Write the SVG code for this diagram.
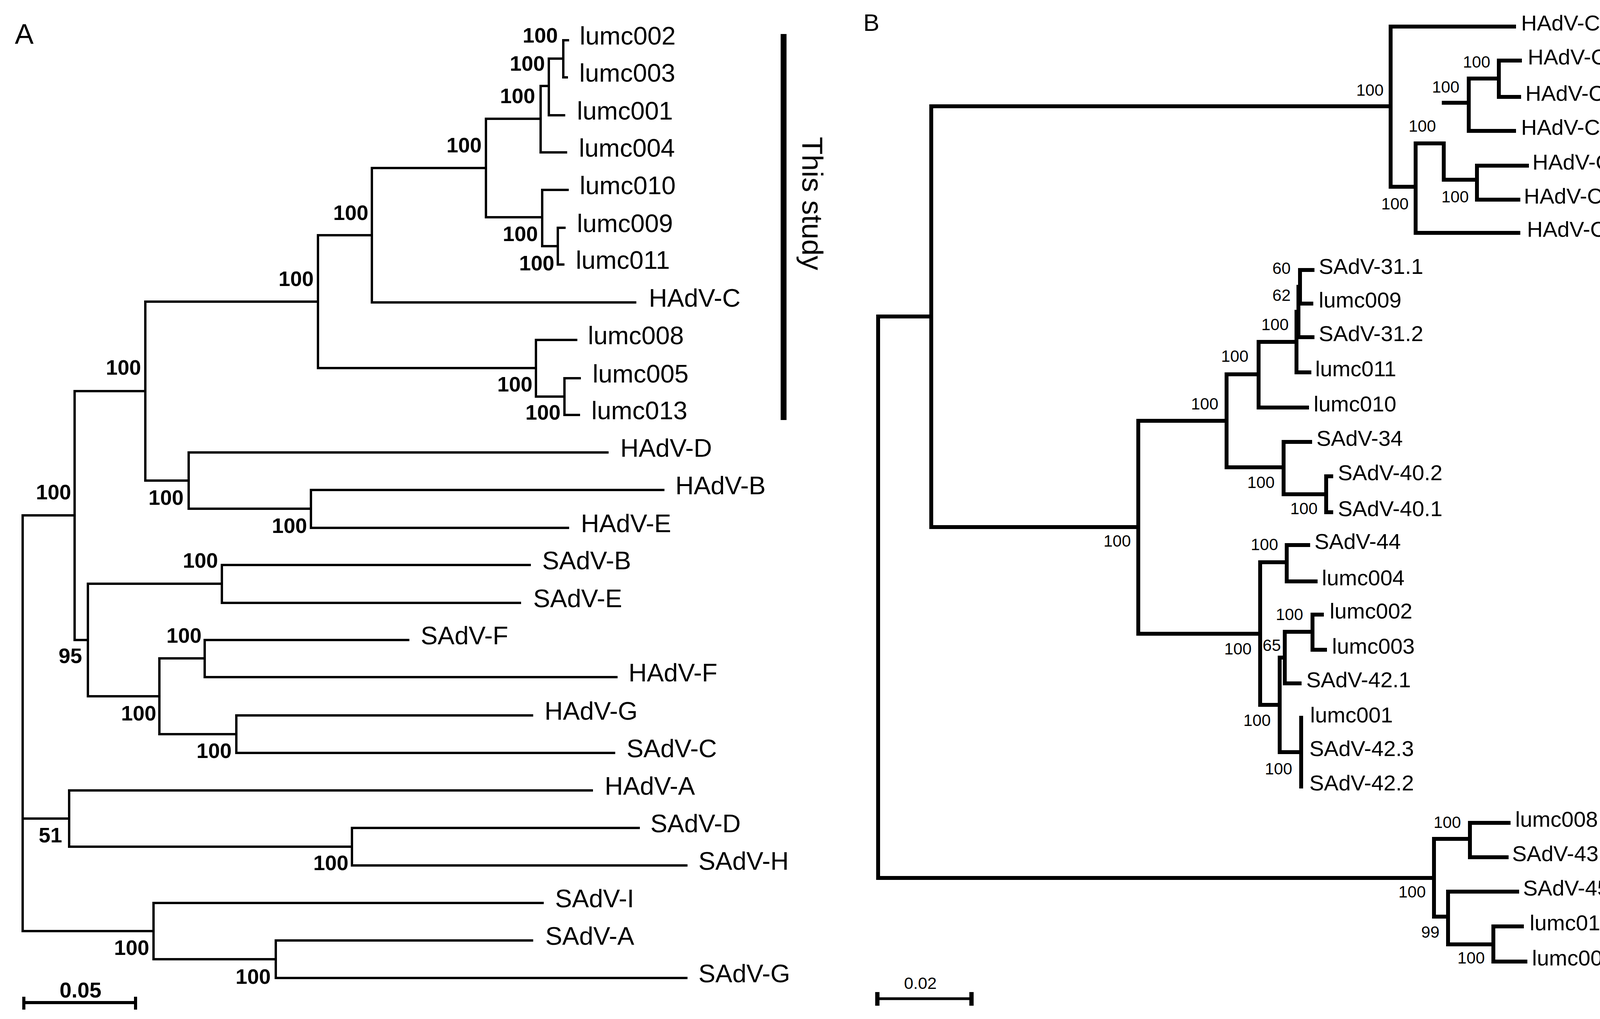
<svg xmlns="http://www.w3.org/2000/svg" width="4328" height="2608" viewBox="0 0 4328 2608">
<style>
text{font-family:"Liberation Sans",Arial,sans-serif;fill:#000}
.ta{font-size:65px}
.ba{font-size:54px;font-weight:bold;text-anchor:end}
.tb{font-size:56px}
.bb{font-size:42px;text-anchor:end}
.pl{font-size:56px}
.ea{stroke:#000;stroke-width:6;fill:none;stroke-linecap:square;stroke-linejoin:miter}
.eb{stroke:#000;stroke-width:10;fill:none;stroke-linecap:square;stroke-linejoin:miter}
.bar{stroke:#000;fill:none}
</style>
<rect width="4328" height="2608" fill="#fff"/>

<!-- Panel labels -->
<text x="38" y="112" style="font-size:72px">A</text>
<text x="2210" y="79" style="font-size:62px">B</text>

<g id="connectors">
 <g id="connectors-A" class="ea">
  <path d="M1454 103H1442V198H1451M1405 150H1442"/>
  <path d="M1405 150V295H1444M1384 220H1405"/>
  <path d="M1384 220V390H1449M1244 304H1384"/>
  <path d="M1445 583H1428V677H1442M1388 630H1428"/>
  <path d="M1453 486H1388V630M1244 556H1388"/>
  <path d="M1244 304V556M952 430H1244"/>
  <path d="M952 430V774H1626M814 602H952"/>
  <path d="M1484 968H1445V1062H1482M1372 1015H1445"/>
  <path d="M1475 870H1372V1015M814 942H1372"/>
  <path d="M814 602V942M372 772H814"/>
  <path d="M1698 1254H796V1351H1454M483 1302H796"/>
  <path d="M1555 1158H483V1302M372 1230H483"/>
  <path d="M372 772V1230M191 1001H372"/>
  <path d="M1356 1446H568V1543H1331M225 1494H568"/>
  <path d="M1045 1638H524V1733H1578M408 1685H524"/>
  <path d="M1362 1831H605V1927H1572M408 1879H605"/>
  <path d="M408 1685V1879M225 1782H408"/>
  <path d="M225 1494V1782M191 1638H225"/>
  <path d="M191 1001V1638M58 1319H191"/>
  <path d="M1635 2119H901V2215H1757M177 2167H901"/>
  <path d="M1515 2023H177V2167M58 2095H177"/>
  <path d="M1362 2407H706V2503H1757M393 2455H706"/>
  <path d="M1389 2311H393V2455M58 2383H393"/>
  <path d="M58 1319V2383"/>
 </g>
 <g id="connectors-B" class="eb">
  <path d="M3876 68H3560V478M2384 272H3560"/>
  <path d="M3560 478H3624M3624 367V596H3887"/>
  <path d="M3624 367H3696V460"/>
  <path d="M3696 263H3760M3760 201V335H3876"/>
  <path d="M3760 201H3837M3891 155H3837V248H3889"/>
  <path d="M3696 460H3781M3909 424H3781V511H3887"/>
  <path d="M3360 691H3328V777H3357"/>
  <path d="M3324 734H3328M3324 734V863H3360"/>
  <path d="M3319 798H3324M3319 798V953H3352"/>
  <path d="M3222 875H3319M3222 875V1043H3346"/>
  <path d="M3140 958H3222M3140 958V1196"/>
  <path d="M3140 1196H3286M3354 1131H3286V1265"/>
  <path d="M3286 1265H3395M3408 1219H3395V1311H3408"/>
  <path d="M2914 1077H3140M2914 1077V1622"/>
  <path d="M2914 1622H3226M3226 1439V1804"/>
  <path d="M3226 1439H3294M3349 1395H3294V1488H3368"/>
  <path d="M3226 1804H3276M3276 1683V1925"/>
  <path d="M3276 1683H3289M3289 1617V1749H3327"/>
  <path d="M3289 1617H3360M3384 1573H3360V1663H3392"/>
  <path d="M3276 1925H3331M3331 1837V2013"/>
  <path d="M2384 272V1349H2914"/>
  <path d="M2384 810H2248V2247H3671"/>
  <path d="M3671 2147V2346"/>
  <path d="M3671 2147H3763M3862 2106H3763V2194H3857"/>
  <path d="M3671 2346H3707M3884 2282H3707V2417"/>
  <path d="M3707 2417H3823M3896 2371H3823V2461H3905"/>
 </g>
</g>

<!-- Panel A leaves -->
<g id="A-lumc002"><text class="ta" x="1484" y="114">lumc002</text></g>
<g id="A-lumc003"><text class="ta" x="1483" y="209">lumc003</text></g>
<g id="A-lumc001"><text class="ta" x="1477" y="306">lumc001</text></g>
<g id="A-lumc004"><text class="ta" x="1482" y="401">lumc004</text></g>
<g id="A-lumc010"><text class="ta" x="1484" y="497">lumc010</text></g>
<g id="A-lumc009"><text class="ta" x="1477" y="594">lumc009</text></g>
<g id="A-lumc011"><text class="ta" x="1474" y="688">lumc011</text></g>
<g id="A-HAdV-C"><text class="ta" x="1661" y="785">HAdV-C</text></g>
<g id="A-lumc008"><text class="ta" x="1505" y="881">lumc008</text></g>
<g id="A-lumc005"><text class="ta" x="1517" y="979">lumc005</text></g>
<g id="A-lumc013"><text class="ta" x="1514" y="1073">lumc013</text></g>
<g id="A-HAdV-D"><text class="ta" x="1588" y="1169">HAdV-D</text></g>
<g id="A-HAdV-B"><text class="ta" x="1729" y="1265">HAdV-B</text></g>
<g id="A-HAdV-E"><text class="ta" x="1487" y="1362">HAdV-E</text></g>
<g id="A-SAdV-B"><text class="ta" x="1388" y="1457">SAdV-B</text></g>
<g id="A-SAdV-E"><text class="ta" x="1365" y="1554">SAdV-E</text></g>
<g id="A-SAdV-F"><text class="ta" x="1077" y="1649">SAdV-F</text></g>
<g id="A-HAdV-F"><text class="ta" x="1609" y="1744">HAdV-F</text></g>
<g id="A-HAdV-G"><text class="ta" x="1394" y="1842">HAdV-G</text></g>
<g id="A-SAdV-C"><text class="ta" x="1604" y="1938">SAdV-C</text></g>
<g id="A-HAdV-A"><text class="ta" x="1548" y="2034">HAdV-A</text></g>
<g id="A-SAdV-D"><text class="ta" x="1665" y="2130">SAdV-D</text></g>
<g id="A-SAdV-H"><text class="ta" x="1788" y="2226">SAdV-H</text></g>
<g id="A-SAdV-I"><text class="ta" x="1421" y="2322">SAdV-I</text></g>
<g id="A-SAdV-A"><text class="ta" x="1396" y="2418">SAdV-A</text></g>
<g id="A-SAdV-G"><text class="ta" x="1788" y="2514">SAdV-G</text></g>

<!-- Panel A internal node support values -->
<g id="A-nodes">
 <g id="A-n1"><text class="ba" x="1428" y="109">100</text></g>
 <g id="A-n2"><text class="ba" x="1395" y="181">100</text></g>
 <g id="A-n3"><text class="ba" x="1370" y="264">100</text></g>
 <g id="A-n6"><text class="ba" x="1233" y="390">100</text></g>
 <g id="A-n7"><text class="ba" x="943" y="563">100</text></g>
 <g id="A-n5"><text class="ba" x="1377" y="617">100</text></g>
 <g id="A-n4"><text class="ba" x="1419" y="692">100</text></g>
 <g id="A-n10"><text class="ba" x="803" y="732">100</text></g>
 <g id="A-n13"><text class="ba" x="361" y="959">100</text></g>
 <g id="A-n9"><text class="ba" x="1363" y="1002">100</text></g>
 <g id="A-n8"><text class="ba" x="1435" y="1074">100</text></g>
 <g id="A-n19"><text class="ba" x="182" y="1278">100</text></g>
 <g id="A-n12"><text class="ba" x="470" y="1292">100</text></g>
 <g id="A-n11"><text class="ba" x="786" y="1364">100</text></g>
 <g id="A-n14"><text class="ba" x="558" y="1453">100</text></g>
 <g id="A-n15"><text class="ba" x="516" y="1645">100</text></g>
 <g id="A-n18"><text class="ba" x="210" y="1697">95</text></g>
 <g id="A-n17"><text class="ba" x="400" y="1844">100</text></g>
 <g id="A-n16"><text class="ba" x="593" y="1940">100</text></g>
 <g id="A-n21"><text class="ba" x="159" y="2156">51</text></g>
 <g id="A-n20"><text class="ba" x="892" y="2227">100</text></g>
 <g id="A-n23"><text class="ba" x="382" y="2444">100</text></g>
 <g id="A-n22"><text class="ba" x="693" y="2518">100</text></g>
</g>

<!-- This study -->
<g id="A-thisstudy">
 <line class="bar" x1="2006" y1="87" x2="2006" y2="1075" stroke-width="15"/>
 <text transform="translate(2054,350) rotate(90)" style="font-size:75px">This study</text>
</g>

<!-- Scale bar A -->
<g id="A-scale">
 <path class="ea" d="M61 2566H347M61 2551V2584M347 2551V2584" style="stroke-linecap:butt;stroke-width:8"/>
 <text x="206" y="2553" style="font-size:55px;font-weight:bold;text-anchor:middle">0.05</text>
</g>

<!-- Panel B leaves -->
<g id="B-HAdV-C5"><text class="tb" x="3894" y="78">HAdV-C5</text></g>
<g id="B-HAdV-C89"><text class="tb" x="3911" y="165">HAdV-C89</text></g>
<g id="B-HAdV-C2"><text class="tb" x="3905" y="258">HAdV-C2</text></g>
<g id="B-HAdV-C104"><text class="tb" x="3894" y="345">HAdV-C104</text></g>
<g id="B-HAdV-C57"><text class="tb" x="3923" y="434">HAdV-C57</text></g>
<g id="B-HAdV-C6"><text class="tb" x="3901" y="521">HAdV-C6</text></g>
<g id="B-HAdV-C1"><text class="tb" x="3909" y="606">HAdV-C1</text></g>
<g id="B-SAdV-31.1"><text class="tb" x="3376" y="701">SAdV-31.1</text></g>
<g id="B-lumc009"><text class="tb" x="3376" y="787">lumc009</text></g>
<g id="B-SAdV-31.2"><text class="tb" x="3376" y="873">SAdV-31.2</text></g>
<g id="B-lumc011"><text class="tb" x="3367" y="963">lumc011</text></g>
<g id="B-lumc010"><text class="tb" x="3363" y="1053">lumc010</text></g>
<g id="B-SAdV-34"><text class="tb" x="3370" y="1141">SAdV-34</text></g>
<g id="B-SAdV-40.2"><text class="tb" x="3425" y="1229">SAdV-40.2</text></g>
<g id="B-SAdV-40.1"><text class="tb" x="3425" y="1321">SAdV-40.1</text></g>
<g id="B-SAdV-44"><text class="tb" x="3365" y="1405">SAdV-44</text></g>
<g id="B-lumc004"><text class="tb" x="3384" y="1498">lumc004</text></g>
<g id="B-lumc002"><text class="tb" x="3404" y="1583">lumc002</text></g>
<g id="B-lumc003"><text class="tb" x="3410" y="1673">lumc003</text></g>
<g id="B-SAdV-42.1"><text class="tb" x="3344" y="1759">SAdV-42.1</text></g>
<g id="B-lumc001"><text class="tb" x="3354" y="1849">lumc001</text></g>
<g id="B-SAdV-42.3"><text class="tb" x="3352" y="1935">SAdV-42.3</text></g>
<g id="B-SAdV-42.2"><text class="tb" x="3352" y="2023">SAdV-42.2</text></g>
<g id="B-lumc008"><text class="tb" x="3879" y="2116">lumc008</text></g>
<g id="B-SAdV-43"><text class="tb" x="3871" y="2204">SAdV-43</text></g>
<g id="B-SAdV-45"><text class="tb" x="3899" y="2292">SAdV-45</text></g>
<g id="B-lumc013"><text class="tb" x="3916" y="2381">lumc013</text></g>
<g id="B-lumc005"><text class="tb" x="3922" y="2471">lumc005</text></g>

<!-- Panel B support values -->
<g id="B-nodes">
 <g id="B-h5"><text class="bb" x="3815" y="173">100</text></g>
 <g id="B-h4"><text class="bb" x="3736" y="237">100</text></g>
 <g id="B-h1"><text class="bb" x="3542" y="245">100</text></g>
 <g id="B-h3"><text class="bb" x="3676" y="337">100</text></g>
 <g id="B-h6"><text class="bb" x="3760" y="518">100</text></g>
 <g id="B-h2"><text class="bb" x="3606" y="536">100</text></g>
 <g id="B-c60"><text class="bb" x="3304" y="701">60</text></g>
 <g id="B-c62"><text class="bb" x="3304" y="770">62</text></g>
 <g id="B-c100a"><text class="bb" x="3299" y="845">100</text></g>
 <g id="B-c3222"><text class="bb" x="3196" y="926">100</text></g>
 <g id="B-c3140"><text class="bb" x="3119" y="1048">100</text></g>
 <g id="B-c3286"><text class="bb" x="3263" y="1249">100</text></g>
 <g id="B-c3395"><text class="bb" x="3373" y="1316">100</text></g>
 <g id="B-n2914"><text class="bb" x="2895" y="1399">100</text></g>
 <g id="B-b3294"><text class="bb" x="3272" y="1408">100</text></g>
 <g id="B-b3360"><text class="bb" x="3336" y="1587">100</text></g>
 <g id="B-b3289"><text class="bb" x="3279" y="1666">65</text></g>
 <g id="B-b3226"><text class="bb" x="3204" y="1675">100</text></g>
 <g id="B-b3276"><text class="bb" x="3253" y="1858">100</text></g>
 <g id="B-b3331"><text class="bb" x="3308" y="1982">100</text></g>
 <g id="B-g3763"><text class="bb" x="3740" y="2119">100</text></g>
 <g id="B-g3671"><text class="bb" x="3650" y="2297">100</text></g>
 <g id="B-g3707"><text class="bb" x="3685" y="2400">99</text></g>
 <g id="B-g3823"><text class="bb" x="3801" y="2466">100</text></g>
</g>

<!-- Host groups -->
<g id="B-Human">
 <line class="bar" x1="4213" y1="45" x2="4213" y2="615" stroke-width="11"/>
 <text class="pl" transform="translate(4247,259) rotate(90)">Human</text>
</g>
<g id="B-Chimpanzee">
 <line class="bar" x1="4213" y1="655" x2="4213" y2="1316" stroke-width="11"/>
 <text class="pl" transform="translate(4250,839) rotate(90)">Chimpanzee</text>
</g>
<g id="B-Bonobo">
 <line class="bar" x1="4207" y1="1356" x2="4207" y2="2040" stroke-width="11"/>
 <text class="pl" transform="translate(4250,1590) rotate(90)">Bonobo</text>
</g>
<g id="B-Gorilla">
 <line class="bar" x1="4207" y1="2081" x2="4207" y2="2382" stroke-width="11"/>
 <text class="pl" transform="translate(4250,2157) rotate(90)">Gorilla</text>
</g>
<g id="B-Orang">
 <line class="bar" x1="4204" y1="2434" x2="4204" y2="2496" stroke-width="11"/>
 <text class="pl" transform="translate(4250,2400) rotate(90)">Orang</text>
</g>

<!-- Scale bar B -->
<g id="B-scale">
 <path d="M2246 2556H2487" stroke="#000" stroke-width="7" fill="none"/>
 <path d="M2246 2539V2574M2487 2539V2574" stroke="#000" stroke-width="11" fill="none"/>
 <text x="2356" y="2531" style="font-size:43px;text-anchor:middle">0.02</text>
</g>
</svg>
